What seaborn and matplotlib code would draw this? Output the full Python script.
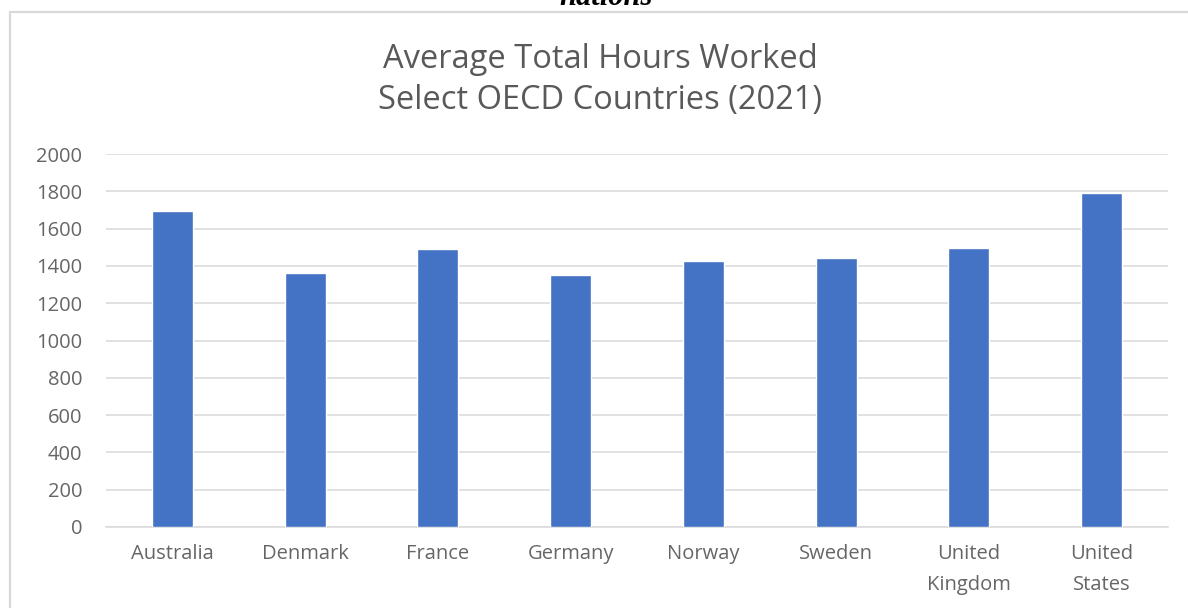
import matplotlib
matplotlib.use("Agg")
import matplotlib.pyplot as plt
import seaborn as sns
import pandas as pd
from matplotlib.patches import Rectangle

countries = ["Australia", "Denmark", "France", "Germany", "Norway", "Sweden",
             "United\nKingdom", "United\nStates"]
hours = [1694, 1363, 1490, 1349, 1427, 1444, 1497, 1791]
y_ticks = [0, 200, 400, 600, 800, 1000, 1200, 1400, 1600, 1800, 2000]
title = "Average Total Hours Worked\nSelect OECD Countries (2021)"
top_text = "nations"

sns.set_theme(style="white")
plt.rcParams["font.family"] = ["Open Sans", "DejaVu Sans"]

df = pd.DataFrame({"country": countries, "hours": hours})

W, H = 1188, 608
fig = plt.figure(figsize=(W / 100, H / 100), dpi=100)
fig.patch.set_facecolor("white")

# outer chart border
fig.patches.append(Rectangle((10 / W, -0.05), 1.2, 1 - 12 / H + 0.05,
                             transform=fig.transFigure, fill=False,
                             edgecolor="#d9d9d9", linewidth=1.6, zorder=0))

ax = fig.add_axes([106 / W, (H - 527) / H, (1168 - 106) / W, (527 - 154) / H])
sns.barplot(data=df, x="country", y="hours", color="#4472C4", saturation=1,
            width=0.31, ax=ax, zorder=3)

ax.set_ylim(0, 2000)
ax.set_xlim(-0.5, len(countries) - 0.5)
ax.set_yticks(y_ticks)
ax.set_yticklabels([str(v) for v in y_ticks])
ax.yaxis.grid(True, color="#d9d9d9", linewidth=1.1, zorder=0)
ax.xaxis.grid(False)
ax.set_axisbelow(True)
for s in ["top", "right", "left"]:
    ax.spines[s].set_visible(False)
ax.spines["bottom"].set_color("#d9d9d9")
ax.spines["bottom"].set_linewidth(1.1)
ax.tick_params(axis="both", length=0, colors="#666666", labelsize=14.5)
ax.tick_params(axis="y", pad=17)
ax.tick_params(axis="x", pad=12)
ax.set_xlabel("")
ax.set_ylabel("")
for lbl in ax.get_xticklabels():
    lbl.set_linespacing(1.75)

fig.text(0.505, 1 - 80 / H, title, ha="center", va="center", fontsize=23.5,
         color="#595959", linespacing=1.3)

fig.text(606 / W, 1 - 5 / H, top_text, ha="center", va="baseline",
         fontsize=22, fontweight="bold", fontstyle="italic",
         family=["Liberation Serif", "DejaVu Serif"], color="black")

fig.savefig("out.png", dpi=100)
